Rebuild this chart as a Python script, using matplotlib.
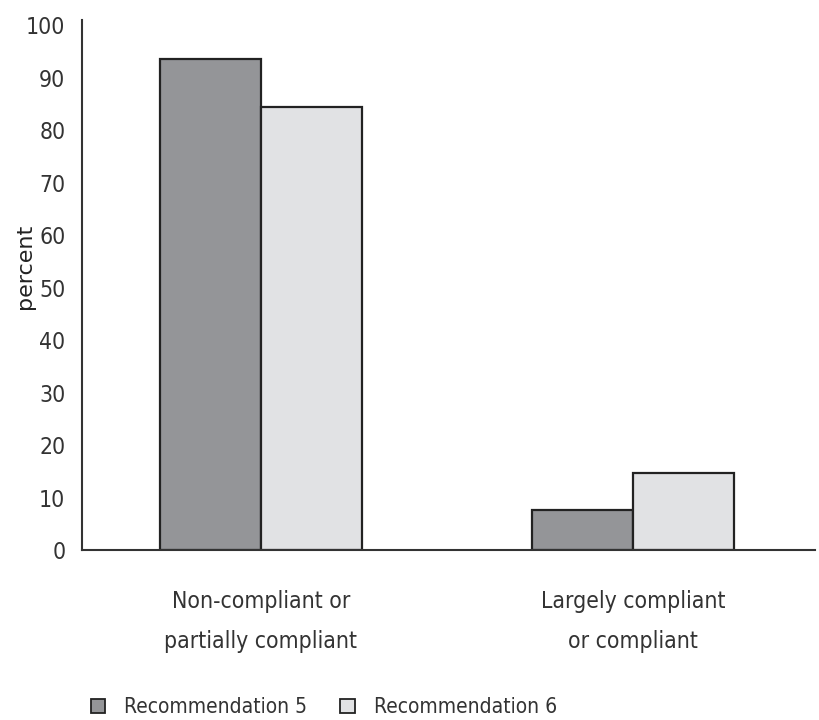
#!/usr/bin/env python3

import numpy as np
import matplotlib
matplotlib.use("Agg")
import matplotlib.pyplot as plt
from matplotlib.patches import Patch

plt.rcParams['font.family'] = ['DejaVu Sans']
plt.rcParams['font.stretch'] = 'condensed'

categories = ["Non-compliant or\npartially compliant", "Largely compliant\nor compliant"]
series_names = ["Recommendation 5", "Recommendation 6"]
rec5 = [93.5, 7.6]
rec6 = [84.4, 14.7]
yticks = list(range(0, 101, 10))

dark = '#949598'
light = '#e1e2e4'
edge = '#222222'

fig = plt.figure(figsize=(8.19, 7.2), dpi=100)
ax = fig.add_axes([0.1001, 0.2361, 0.895, 0.7361])

x = np.arange(len(categories))
w = 0.272
ax.bar(x - w / 2, rec5, w, color=dark, edgecolor=edge, linewidth=1.6, zorder=2)
ax.bar(x + w / 2, rec6, w, color=light, edgecolor=edge, linewidth=1.6, zorder=2)

ax.set_xlim(-0.481, 1.489)
ax.set_ylim(0, 101)
ax.set_yticks(yticks)
ax.set_yticklabels([str(t) for t in yticks])
ax.set_xticks(x)
ax.set_xticklabels(categories, linespacing=1.95)

ax.tick_params(axis='y', length=0, pad=12, labelsize=16.5, labelcolor='#333333')
ax.tick_params(axis='x', length=0, pad=29, labelsize=16.5, labelcolor='#333333')

for s in ['top', 'right']:
    ax.spines[s].set_visible(False)
for s in ['left', 'bottom']:
    ax.spines[s].set_color('#333333')
    ax.spines[s].set_linewidth(1.5)

fig.text(25 / 819, 1 - 266 / 720, 'percent', rotation=90, ha='center', va='center',
         family=['DejaVu Sans'], stretch='normal', fontsize=16,
         color='#222222')

handles = [Patch(facecolor=dark, edgecolor=edge, linewidth=1.3),
           Patch(facecolor=light, edgecolor=edge, linewidth=1.3)]
fig.legend(handles, series_names, loc='lower left', bbox_to_anchor=(0.088, -0.022),
           ncol=2, frameon=False, fontsize=15, handlelength=0.7, handleheight=0.7,
           columnspacing=1.6, handletextpad=0.9, labelcolor='#333333')

fig.savefig('out.png', dpi=100)
